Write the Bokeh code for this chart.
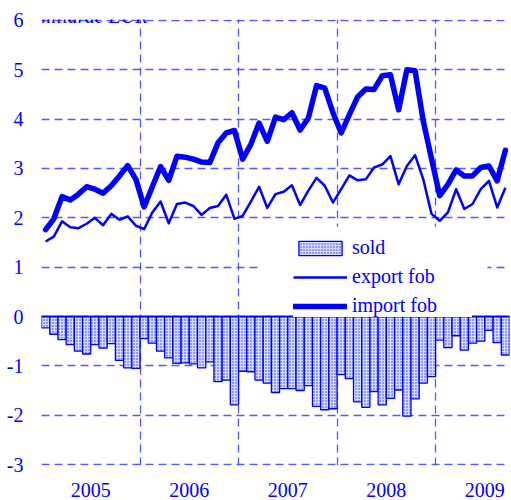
import numpy as np
from bokeh.plotting import figure
from bokeh.models import (FixedTicker, Legend, LegendItem, Label, Span, Range1d,
                          ColumnDataSource, BoxAnnotation)
from bokeh.embed import file_html
from bokeh.resources import INLINE

years = ["2005", "2006", "2007", "2008", "2009"]
y_ticks = [-3, -2, -1, 0, 1, 2, 3, 4, 5, 6]
y_labels = ["-3", "-2", "-1", "0", "1", "2", "3", "4", "5", "6"]

sold = [-0.23, -0.36, -0.47, -0.57, -0.70, -0.76, -0.57, -0.64, -0.55, -0.89, -1.04, -1.05,
        -0.45, -0.54, -0.70, -0.84, -0.95, -0.94, -0.96, -1.04, -0.92, -1.32, -1.29, -1.79,
        -1.11, -1.12, -1.29, -1.35, -1.54, -1.46, -1.46, -1.50, -1.40, -1.82, -1.89, -1.87,
        -1.18, -1.26, -1.73, -1.84, -1.52, -1.79, -1.66, -1.49, -2.02, -1.67, -1.35, -1.22,
        -0.48, -0.63, -0.39, -0.68, -0.54, -0.50, -0.28, -0.53, -0.78]

export_fob = [1.52, 1.62, 1.93, 1.81, 1.79, 1.88, 2.00, 1.85, 2.08, 1.96, 2.03, 1.84,
              1.77, 2.11, 2.33, 1.89, 2.28, 2.31, 2.24, 2.06, 2.20, 2.24, 2.47, 1.98,
              2.04, 2.33, 2.63, 2.20, 2.48, 2.53, 2.66, 2.26, 2.55, 2.81, 2.65, 2.31,
              2.58, 2.86, 2.76, 2.78, 3.02, 3.08, 3.25, 2.68, 3.05, 3.27, 2.78, 2.08,
              1.94, 2.11, 2.58, 2.18, 2.28, 2.58, 2.75, 2.21, 2.61]

import_fob = [1.76, 1.98, 2.43, 2.36, 2.48, 2.63, 2.58, 2.50, 2.65, 2.85, 3.06, 2.78,
              2.22, 2.63, 3.04, 2.76, 3.25, 3.23, 3.19, 3.13, 3.12, 3.52, 3.72, 3.77,
              3.19, 3.49, 3.92, 3.55, 4.04, 3.99, 4.13, 3.78, 4.02, 4.68, 4.63, 4.13,
              3.72, 4.09, 4.45, 4.61, 4.60, 4.88, 4.90, 4.19, 5.00, 4.98, 3.96, 3.20,
              2.45, 2.68, 2.97, 2.85, 2.85, 3.02, 3.05, 2.75, 3.37]

n = len(sold)
month_pos = np.arange(n) + 0.5
src = ColumnDataSource(dict(x=month_pos, sold=sold, exp=export_fob, imp=import_fob))

BLUE = "#0000ff"
GRID = "#3a3aff"
FONT = "Liberation Serif"

p = figure(width=510, height=500, x_range=Range1d(0, 57), y_range=Range1d(-3.02, 6.02),
           output_backend="svg", toolbar_location=None,
           min_border_left=41, min_border_right=1, min_border_top=19, min_border_bottom=35)
p.outline_line_color = None
p.background_fill_color = "white"

# grids
p.xgrid.ticker = FixedTicker(ticks=[0, 12, 24, 36, 48])
p.ygrid.ticker = FixedTicker(ticks=y_ticks)
for g in (p.xgrid, p.ygrid):
    g.grid_line_color = GRID
    g.grid_line_dash = "8 5"
    g.grid_line_width = 1.3
    g.grid_line_alpha = 0.85

# white legend backdrop hiding the grid behind the legend area
p.add_layout(BoxAnnotation(left=26.8, right=54.3, bottom=0.03, top=1.82,
                           fill_color="white", fill_alpha=1.0, line_color=None,
                           level="underlay"))

# axes
p.xaxis.ticker = FixedTicker(ticks=[6, 18, 30, 42, 54])
p.xaxis.major_label_overrides = {6 + 12 * i: y for i, y in enumerate(years)}
p.yaxis.ticker = FixedTicker(ticks=y_ticks)
p.yaxis.major_label_overrides = dict(zip(y_ticks, y_labels))
for ax in (p.xaxis[0], p.yaxis[0]):
    ax.axis_line_color = None
    ax.major_tick_line_color = None
    ax.minor_tick_line_color = None
    ax.major_label_text_font = FONT
    ax.major_label_text_font_size = "20px"
    ax.major_label_text_color = BLUE
p.xaxis.major_label_standoff = 11
p.yaxis.major_label_standoff = 12

bars = p.vbar(x="x", width=1.0, top=0, bottom="sold", source=src,
              fill_color="#d6ddff", line_color=BLUE, line_width=1.3,
              hatch_pattern="dot", hatch_color="#2233ff", hatch_scale=3.0, hatch_weight=1.7)
p.add_layout(Span(location=0, dimension="width", line_color=BLUE, line_width=1.5))

exp_r = p.line("x", "exp", source=src, line_color=BLUE, line_width=2.5, line_join="round")
imp_r = p.line("x", "imp", source=src, line_color=BLUE, line_width=5.5, line_join="round",
               line_cap="round")

legend = Legend(items=[LegendItem(label="sold", renderers=[bars]),
                       LegendItem(label="export fob", renderers=[exp_r]),
                       LegendItem(label="import fob", renderers=[imp_r])],
                location=(252, 148), border_line_color=None,
                background_fill_color="white", background_fill_alpha=1.0,
                glyph_width=54, glyph_height=18, label_standoff=5, spacing=6,
                padding=6, margin=0, label_width=120,
                label_text_font=FONT, label_text_font_size="20px", label_text_color=BLUE)
p.add_layout(legend)

p.add_layout(Label(x=-0.6, y=6.10, text="miliarde EUR", text_font=FONT,
                   text_font_style="italic", text_font_size="20px", text_color=BLUE,
                   text_baseline="alphabetic"))

open("out.html", "w").write(file_html(p, INLINE))
